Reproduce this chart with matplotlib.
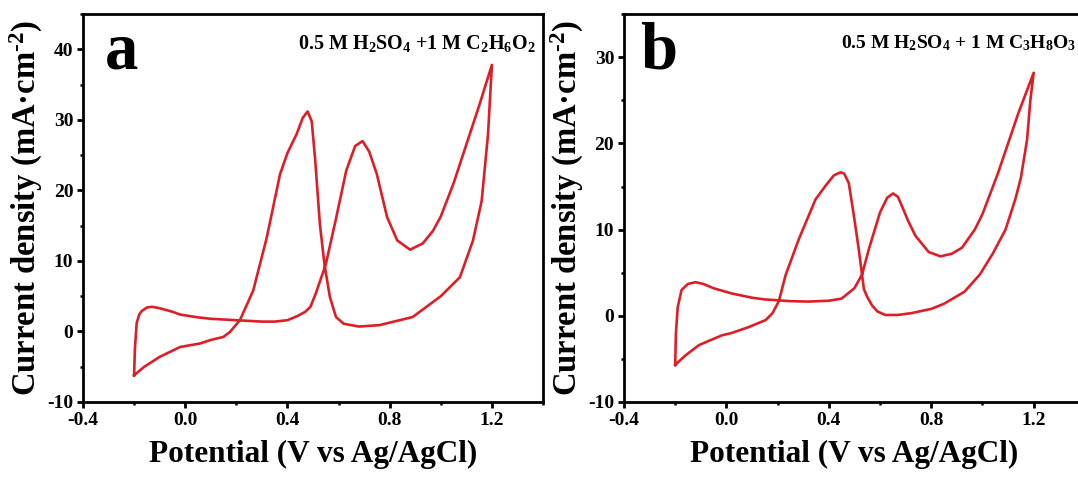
import numpy as np
import matplotlib
matplotlib.use('Agg')
import matplotlib.pyplot as plt
from matplotlib.ticker import MultipleLocator, FormatStrFormatter

plt.rcParams['font.family'] = 'Liberation Serif'
plt.rcParams['font.weight'] = 'bold'
plt.rcParams['axes.unicode_minus'] = False
plt.rcParams['mathtext.fontset'] = 'custom'
plt.rcParams['mathtext.rm'] = 'Liberation Serif:bold'
plt.rcParams['mathtext.it'] = 'Liberation Serif:bold'
plt.rcParams['mathtext.bf'] = 'Liberation Serif:bold'

# panel a: ethylene glycol, forward (anodic) then reverse scan
a_fwd_x = [-0.2, -0.197, -0.19, -0.18, -0.17, -0.15, -0.13, -0.1, -0.05, -0.02, 0.05, 0.1, 0.2, 0.3,
           0.35, 0.4, 0.44, 0.47, 0.49, 0.51, 0.55, 0.59, 0.63, 0.665, 0.694, 0.72, 0.75, 0.79,
           0.83, 0.88, 0.93, 0.97, 1.0, 1.05, 1.1, 1.15, 1.2]
a_fwd_y = [-6.2, -2.5, 1.2, 2.4, 2.9, 3.4, 3.5, 3.3, 2.8, 2.4, 2.0, 1.8, 1.6, 1.4,
           1.4, 1.6, 2.2, 2.8, 3.5, 5.3, 9.5, 16.0, 22.8, 26.3, 27.0, 25.5, 22.3, 16.2,
           12.9, 11.6, 12.5, 14.3, 16.3, 21.0, 26.5, 32.0, 37.8]
a_rev_x = [1.2, 1.185, 1.16, 1.126, 1.075, 1.0, 0.89, 0.76, 0.68, 0.62, 0.59, 0.566, 0.545,
           0.527, 0.508, 0.495, 0.479, 0.46, 0.436, 0.40, 0.371, 0.319, 0.266, 0.214, 0.175, 0.149,
           0.1, 0.058, -0.02, -0.1, -0.16, -0.2]
a_rev_y = [37.8, 28.0, 18.5, 12.9, 7.7, 5.0, 2.05, 0.9, 0.7, 1.1, 2.05, 4.9, 9.5,
           15.2, 24.6, 29.8, 31.2, 30.3, 28.0, 25.3, 22.3, 13.3, 5.8, 1.6, -0.07, -0.78,
           -1.2, -1.7, -2.2, -3.6, -5.0, -6.2]

# panel b: glycerol
b_fwd_x = [-0.2, -0.197, -0.19, -0.175, -0.15, -0.12, -0.09, -0.05, 0.02, 0.1, 0.15, 0.25, 0.32,
           0.4, 0.45, 0.5, 0.53, 0.556, 0.6, 0.628, 0.651, 0.67, 0.686, 0.71, 0.738, 0.79,
           0.836, 0.88, 0.92, 0.97, 1.0, 1.06, 1.14, 1.2]
b_fwd_y = [-5.7, -2.0, 1.0, 3.0, 3.7, 3.9, 3.7, 3.2, 2.6, 2.1, 1.9, 1.7, 1.65,
           1.75, 2.0, 3.2, 4.8, 7.7, 12.0, 13.7, 14.2, 13.8, 12.7, 11.0, 9.3, 7.4,
           6.9, 7.2, 7.9, 10.0, 11.8, 16.5, 23.5, 28.2]
b_rev_x = [1.2, 1.187, 1.174, 1.15, 1.128, 1.09, 1.04, 0.99, 0.93, 0.85, 0.8, 0.72, 0.67, 0.62,
           0.59, 0.569, 0.55, 0.537, 0.517, 0.498, 0.478, 0.46, 0.446, 0.42, 0.39, 0.348, 0.283,
           0.231, 0.205, 0.18, 0.153, 0.088, 0.02, -0.016, -0.06, -0.107, -0.16, -0.2]
b_rev_y = [28.2, 25.0, 20.4, 16.0, 13.5, 10.0, 7.2, 4.8, 2.8, 1.4, 0.8, 0.3, 0.1, 0.1,
           0.5, 1.2, 2.2, 3.1, 7.7, 11.6, 15.4, 16.5, 16.65, 16.3, 15.2, 13.5, 8.9,
           4.7, 1.7, 0.3, -0.5, -1.3, -2.0, -2.25, -2.8, -3.4, -4.6, -5.7]

panels = [
    ('a', a_fwd_x + a_rev_x, a_fwd_y + a_rev_y, (-10, 45),
     r'0.5 M H$_2$SO$_4$ +1 M C$_2$H$_6$O$_2$', [0.077, 0.1625, 0.4267, 0.808], 0.048, 0.985, 14.5),
    ('b', b_fwd_x + b_rev_x, b_fwd_y + b_rev_y, (-10, 35),
     r'0.5 M H$_2$SO$_4$ + 1 M C$_3$H$_8$O$_3$', [0.5788, 0.1625, 0.4276, 0.808], 0.035, 0.982, 14),
]

red = '#dc1f26'
fig = plt.figure(figsize=(10.78, 4.8), dpi=100)

for letter, xs, ys, ylim, label, pos, lx, tx, tsize in panels:
    ax = fig.add_axes(pos)
    ax.plot(xs, ys, color=red, lw=1.9)
    ax.set_xlim(-0.4, 1.4)
    ax.set_ylim(*ylim)
    ax.xaxis.set_major_locator(MultipleLocator(0.4))
    ax.xaxis.set_minor_locator(MultipleLocator(0.2))
    ax.yaxis.set_major_locator(MultipleLocator(10))
    ax.yaxis.set_minor_locator(MultipleLocator(5))
    ax.xaxis.set_major_formatter(FormatStrFormatter('%.1f'))
    for s in ax.spines.values():
        s.set_linewidth(2.0)
    ax.tick_params(which='major', direction='out', length=4, width=2, labelsize=14, pad=3)
    ax.tick_params(which='minor', direction='out', length=2.5, width=1.8)
    for t in ax.get_xticklabels() + ax.get_yticklabels():
        t.set_fontweight('bold')
    ax.set_xlabel('Potential (V vs Ag/AgCl)', fontsize=22.5, fontweight='bold', labelpad=8)
    ax.set_ylabel('Current density (mA\u00b7cm$^{\\text{-2}}$)', fontsize=23.5,
                  fontweight='bold', labelpad=1.5)
    ax.text(lx, 0.86, letter, transform=ax.transAxes,
            fontsize=48, fontweight='bold', va='baseline', ha='left')
    ax.text(tx, 0.925, label, transform=ax.transAxes, fontsize=tsize,
            fontweight='bold', ha='right', va='center')

fig.savefig('out.png', dpi=100)
